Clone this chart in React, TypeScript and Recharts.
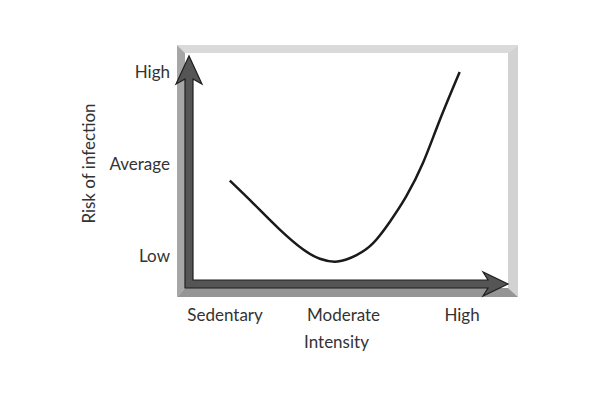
import React from 'react';
import { LineChart, Line, XAxis, YAxis, ReferenceArea } from 'recharts';

// intensity (0 = sedentary, 1 = moderate, 2 = high) vs risk (0 = low, 1 = average, 2 = high)
const intensity = [0.04, 0.24, 0.46, 0.66, 0.8, 0.95, 1.11, 1.25, 1.39, 1.53, 1.67, 1.81, 1.98];
const risk = [0.82, 0.57, 0.29, 0.07, -0.03, -0.06, 0.01, 0.14, 0.37, 0.65, 1.01, 1.47, 2.0];

const xTicks = [0, 1, 2];
const xTickLabels = ['Sedentary', 'Moderate', 'High'];
const yTicks = [0, 1, 2];
const yTickLabels = ['Low', 'Average', 'High'];

const xDomain = [-0.338, 2.388];
const yDomain = [-0.348, 2.207];

const data = intensity.map((x, i) => ({ x, risk: risk[i] }));

const font = 'Lato, "Open Sans", sans-serif';
const textColor = '#333';

// bevelled frame plus the two arrow axes, drawn around the plot rectangle
const Frame = (props: any) => {
  const { x, y, width, height } = props;
  const ix0 = x;
  const iy0 = y;
  const ix1 = x + width;
  const iy1 = y + height;
  const ox0 = ix0 - 8;
  const oy0 = iy0 - 8;
  const ox1 = ix1 + 10;
  const oy1 = iy1 + 9;
  const cx = ix0 + 4; // vertical shaft centre
  const cy = iy1 - 4; // horizontal shaft centre
  const arrow = [
    [ix0, iy1],
    [ix0, iy0 + 26],
    [cx - 13, iy0 + 31],
    [cx, iy0 + 3],
    [cx + 13, iy0 + 31],
    [cx + 4, iy0 + 26],
    [cx + 4, cy - 4],
    [ix1 - 20, cy - 4],
    [ix1 - 25, cy - 12],
    [ix1, cy],
    [ix1 - 25, cy + 12],
    [ix1 - 20, cy + 4],
  ]
    .map((p) => p.join(','))
    .join(' ');
  return (
    <g>
      <polygon points={`${ox0},${oy0} ${ox1},${oy0} ${ix1},${iy0} ${ix0},${iy0}`} fill="#dadada" />
      <polygon points={`${ox1},${oy0} ${ox1},${oy1} ${ix1},${iy1} ${ix1},${iy0}`} fill="#d2d2d2" />
      <polygon points={`${ox0},${oy0} ${ix0},${iy0} ${ix0},${iy1} ${ox0},${oy1}`} fill="#a6a6a6" />
      <polygon points={`${ox0},${oy1} ${ix0},${iy1} ${ix1},${iy1} ${ox1},${oy1}`} fill="#959595" />
      <polygon points={arrow} fill="#555555" stroke="#1e1e1e" strokeWidth={1.2} strokeLinejoin="miter" />
    </g>
  );
};

const IntensityLabel = (props: any) => {
  const vb = props.viewBox || { x: 185, y: 288, width: 323, height: 40 };
  return (
    <text
      x={vb.x + vb.width / 2 - 10}
      y={vb.y + vb.height + 20}
      textAnchor="middle"
      fill={textColor}
      fontFamily={font}
      fontSize={17}
    >
      Intensity
    </text>
  );
};

const RiskLabel = (props: any) => {
  const vb = props.viewBox || { x: 75, y: 53, width: 110, height: 235 };
  const lx = vb.x + 20;
  const ly = vb.y + vb.height / 2 - 7;
  return (
    <text
      x={lx}
      y={ly}
      transform={`rotate(-90 ${lx} ${ly})`}
      textAnchor="middle"
      fill={textColor}
      fontFamily={font}
      fontSize={17}
    >
      Risk of infection
    </text>
  );
};

const App: React.FC = () => {
  return (
    <div style={{ position: 'absolute', left: 0, top: 0, width: 600, height: 400, background: '#fff' }}>
      <LineChart width={600} height={400} data={data} margin={{ top: 53, right: 92, bottom: 72, left: 75 }}>
        <ReferenceArea
          x1={xDomain[0]}
          x2={xDomain[1]}
          y1={yDomain[0]}
          y2={yDomain[1]}
          ifOverflow="visible"
          shape={<Frame />}
        />
        <XAxis
          type="number"
          dataKey="x"
          domain={xDomain}
          ticks={xTicks}
          tickFormatter={(v: number) => xTickLabels[v] ?? ''}
          axisLine={false}
          tickLine={false}
          tickSize={0}
          tickMargin={21}
          height={40}
          interval={0}
          tick={{ fill: textColor, fontSize: 17, fontFamily: font }}
          label={<IntensityLabel />}
        />
        <YAxis
          type="number"
          domain={yDomain}
          ticks={yTicks}
          tickFormatter={(v: number) => yTickLabels[v] ?? ''}
          axisLine={false}
          tickLine={false}
          tickSize={0}
          tickMargin={15}
          width={110}
          interval={0}
          tick={{ fill: textColor, fontSize: 17, fontFamily: font }}
          label={<RiskLabel />}
        />
        <Line
          type="natural"
          dataKey="risk"
          stroke="#1a1a1a"
          strokeWidth={2.5}
          dot={false}
          activeDot={false}
          isAnimationActive={false}
        />
      </LineChart>
    </div>
  );
};

export default App;
